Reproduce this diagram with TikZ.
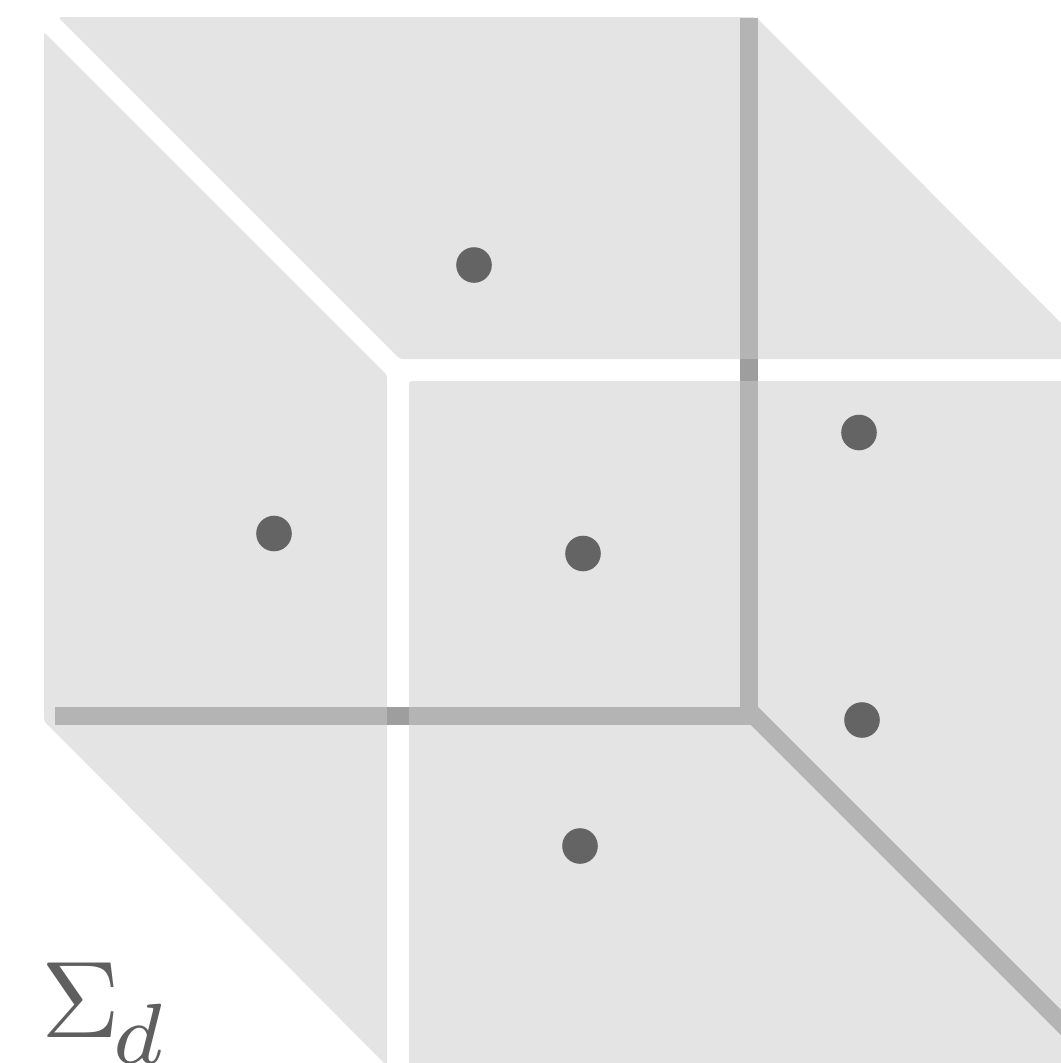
\documentclass[tikz,border=0pt]{standalone}
\usepackage{amsmath}
\usepackage{graphicx}
\usepackage{tikz}
\usepackage{xcolor}
\definecolor{conegray}{HTML}{E4E4E4}
\definecolor{wallgray}{HTML}{B3B4B3}
\definecolor{crossgray}{HTML}{9D9E9D}
\definecolor{dotgray}{HTML}{646464}
\definecolor{labelgray}{HTML}{5F5F5F}
\begin{document}
\begin{tikzpicture}[x=0.01cm,y=-0.01cm,
    cone/.style={fill=conegray,rounded corners=0.8pt},
    wall/.style={draw=wallgray,line width=0.18cm},
    lattpt/.style={fill=dotgray}]
  \useasboundingbox (0,0) rectangle (1061,1063);
  \clip (0,0) rectangle (1061,1063);
  % the three pieces
  \fill[cone] (58,17) -- (756,17) -- (1097,359) -- (400,359) -- cycle;
  \fill[cone] (44,32) -- (387,375) -- (387,1066) -- (44,721) -- cycle;
  \fill[cone] (409,381) -- (1090,381) -- (1090,1090) -- (409,1090) -- cycle;
  % walls
  \draw[wall] (55,716) -- (748.5,716) -- (748.5,18);
  \draw[wall] (751,712.5) -- (1090,1051.5);
  \fill[crossgray] (739.5,359) rectangle (757.5,381);
  \fill[crossgray] (387,707) rectangle (409,725);
  % points
  \fill[lattpt] (474,265) circle (17.8);
  \fill[lattpt] (274,533.5) circle (17.8);
  \fill[lattpt] (583,553.5) circle (17.8);
  \fill[lattpt] (859,432.5) circle (17.8);
  \fill[lattpt] (862,720) circle (17.8);
  \fill[lattpt] (580,846) circle (17.8);
  \node[anchor=base west,inner sep=0pt,text=labelgray,scale=3.1] (sigmad) at (39,1037)
    {$\Sigma_{\kern-0.7pt\raisebox{-0.95pt}{\scalebox{1.12}{$\scriptstyle d$}}}$};
\end{tikzpicture}
\end{document}
